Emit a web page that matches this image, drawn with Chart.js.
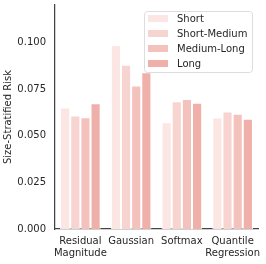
<!DOCTYPE html>
<html>
<head>
<meta charset="utf-8">
<script src="https://cdn.jsdelivr.net/npm/chart.js@4/dist/chart.umd.min.js"></script>
<style>
  html, body { margin: 0; padding: 0; background: #fff; }
  #wrap { width: 266px; height: 264px; }
</style>
</head>
<body>
<div id="wrap"><canvas id="grafica" width="266" height="264"></canvas></div>
<script>
// datos de la grafica
const categorias = [['Residual', 'Magnitude'], 'Gaussian', 'Softmax', ['Quantile', 'Regression']];
const tamanos = ['Short', 'Short-Medium', 'Medium-Long', 'Long'];
const valShort = [0.0651, 0.0986, 0.0572, 0.0597];
const valShortMedium = [0.0608, 0.0880, 0.0684, 0.0629];
const valMediumLong = [0.0598, 0.0769, 0.0697, 0.0618];
const valLong = [0.0674, 0.0840, 0.0677, 0.0591];
const yTicks = [0, 0.025, 0.05, 0.075, 0.1];
const colores = ['#fce6e4', '#f8d4d0', '#f4c2bd', '#f0b0aa'];

const series = [valShort, valShortMedium, valMediumLong, valLong];
const textColor = '#262626';
const fuente = { family: 'DejaVu Sans', size: 10 };

// leyenda dibujada a mano dentro del area
const leyendaCaja = {
  id: 'leyendaCaja',
  afterDraw(chart) {
    const ctx = chart.ctx;
    const area = chart.chartArea;
    const w = 108, h = 61;
    const x = area.right - 6 - w;
    const y = area.top + 6;
    ctx.save();
    ctx.fillStyle = 'rgba(255,255,255,0.8)';
    ctx.strokeStyle = '#dddddd';
    ctx.lineWidth = 1;
    ctx.beginPath();
    ctx.roundRect(x + 0.5, y + 0.5, w, h, 3);
    ctx.fill();
    ctx.stroke();
    ctx.font = '10px "DejaVu Sans"';
    ctx.textBaseline = 'middle';
    chart.data.datasets.forEach((ds, i) => {
      const cy = y + 7.5 + i * 15;
      ctx.fillStyle = ds.backgroundColor;
      ctx.fillRect(x + 4, cy - 3.5, 20, 7);
      ctx.fillStyle = textColor;
      ctx.fillText(ds.label, x + 33, cy + 0.5);
    });
    ctx.restore();
  }
};

const config = {
  type: 'bar',
  data: {
    labels: categorias,
    datasets: tamanos.map((t, i) => ({
      label: t,
      data: series[i],
      backgroundColor: colores[i],
      borderColor: '#ffffff',
      borderWidth: 1,
      categoryPercentage: 0.8,
      barPercentage: 1.0,
    })),
  },
  options: {
    responsive: false,
    animation: false,
    devicePixelRatio: 1,
    layout: { autoPadding: false, padding: { top: 5, right: 8, left: 0, bottom: 0 } },
    plugins: {
      legend: { display: false },
      tooltip: { enabled: false },
    },
    scales: {
      x: {
        grid: { display: false, drawTicks: false },
        border: { display: true, color: '#444444', width: 1.25 },
        ticks: { color: textColor, font: fuente, padding: 6, maxRotation: 0, autoSkip: false },
        afterFit(scale) {
          scale.height = 35;
          scale.paddingLeft = 0;
          scale.paddingRight = 0;
        },
      },
      y: {
        min: 0,
        max: 0.12,
        grid: { display: false, drawTicks: false },
        border: { display: true, color: '#444444', width: 1.25 },
        ticks: {
          color: textColor,
          font: fuente,
          padding: 9,
          stepSize: 0.025,
          callback: (v) => v.toFixed(3),
        },
        afterBuildTicks(scale) {
          scale.ticks = yTicks.map((v) => ({ value: v }));
        },
        title: {
          display: true,
          text: 'Size-Stratified Risk',
          color: textColor,
          font: fuente,
          padding: { top: 2, bottom: 0 },
        },
        afterFit(scale) {
          scale.width = 55;
          scale.paddingTop = 0;
          scale.paddingBottom = 0;
        },
      },
    },
  },
  plugins: [leyendaCaja],
};

let miGrafica = new Chart(document.querySelector('#grafica'), config);
</script>
</body>
</html>
